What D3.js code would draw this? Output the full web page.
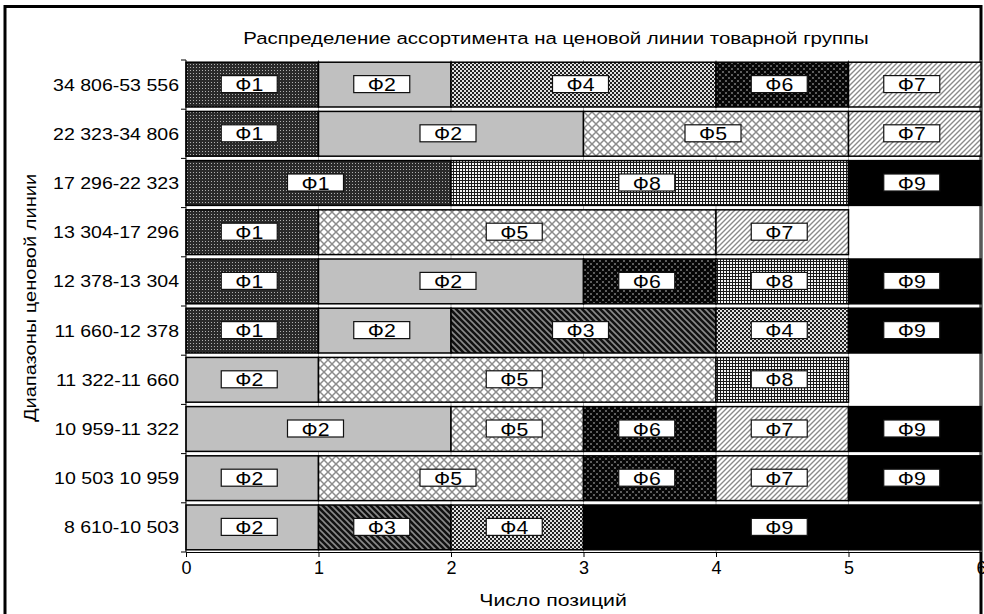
<!DOCTYPE html>
<html>
<head>
<meta charset="utf-8">
<script src="https://cdn.jsdelivr.net/npm/d3@7"></script>
<style>
  html, body { margin: 0; padding: 0; background: #fff; }
  svg { display: block; font-family: "Liberation Sans", Arial, sans-serif; }
</style>
</head>
<body>
<svg id="chart" width="984" height="614"></svg>
<script>
// Price-range bands, top to bottom
const categories = [
  "34 806-53 556", "22 323-34 806", "17 296-22 323", "13 304-17 296",
  "12 378-13 304", "11 660-12 378", "11 322-11 660", "10 959-11 322",
  "10 503 10 959", "8 610-10 503"
];

// Product families stacked along each band
const seriesKeys = ["Ф1", "Ф2", "Ф3", "Ф4", "Ф5", "Ф6", "Ф7", "Ф8", "Ф9"];

// Number of positions per family, one entry per band (same order as categories)
const F1 = [1, 1, 2, 1, 1, 1, 0, 0, 0, 0];
const F2 = [1, 2, 0, 0, 2, 1, 1, 2, 1, 1];
const F3 = [0, 0, 0, 0, 0, 2, 0, 0, 0, 1];
const F4 = [2, 0, 0, 0, 0, 1, 0, 0, 0, 1];
const F5 = [0, 2, 0, 3, 0, 0, 3, 1, 2, 0];
const F6 = [1, 0, 0, 0, 1, 0, 0, 1, 1, 0];
const F7 = [1, 1, 0, 1, 0, 0, 0, 1, 1, 0];
const F8 = [0, 0, 3, 0, 1, 0, 1, 0, 0, 0];
const F9 = [0, 0, 1, 0, 1, 1, 0, 1, 1, 3];

const xTicks = [0, 1, 2, 3, 4, 5, 6];

const chartTitle = "Распределение ассортимента на ценовой линии товарной группы";
const xTitle = "Число позиций";
const yTitle = "Диапазоны ценовой линии";

const seriesValues = [F1, F2, F3, F4, F5, F6, F7, F8, F9];
const rows = categories.map((c, i) => {
  const r = { category: c };
  seriesKeys.forEach((k, j) => { r[k] = seriesValues[j][i]; });
  return r;
});

const svg = d3.select("#chart");
const defs = svg.append("defs");

// text drawn with a slightly widened face
function wideText(parent, x, y, str, size, sx, anchor, rotate) {
  const rot = rotate ? ` rotate(${rotate})` : "";
  return parent.append("text")
    .attr("transform", `translate(${x},${y})${rot} scale(${sx},1)`)
    .attr("text-anchor", anchor || "middle")
    .attr("font-size", size)
    .text(str);
}

// ---- fill patterns ----
function pattern(id, w, h, draw) {
  const p = defs.append("pattern")
    .attr("id", id).attr("patternUnits", "userSpaceOnUse")
    .attr("width", w).attr("height", h);
  draw(p);
}
// Ф1: dark dotted
pattern("pF1", 3, 3, p => {
  p.append("rect").attr("width", 3).attr("height", 3).attr("fill", "#2a2a2a");
  p.append("rect").attr("x", 1).attr("y", 1).attr("width", 1).attr("height", 1).attr("fill", "#b0b0b0");
});
// Ф3: dark downward diagonal stripes
pattern("pF3", 6, 6, p => {
  p.append("rect").attr("width", 6).attr("height", 6).attr("fill", "#111");
  p.append("path").attr("d", "M0,0 L6,6 M-3,3 L3,9 M3,-3 L9,3")
    .attr("stroke", "#8a8a8a").attr("stroke-width", 1.6);
});
// Ф4: small checkerboard
pattern("pF4", 4, 4, p => {
  p.append("rect").attr("width", 4).attr("height", 4).attr("fill", "#e0e0e0");
  p.append("rect").attr("width", 2).attr("height", 2).attr("fill", "#222");
  p.append("rect").attr("x", 2).attr("y", 2).attr("width", 2).attr("height", 2).attr("fill", "#222");
});
// Ф5: light diagonal crosshatch
pattern("pF5", 8, 8, p => {
  p.append("rect").attr("width", 8).attr("height", 8).attr("fill", "#fff");
  p.append("path").attr("d", "M0,0 L8,8 M8,0 L0,8")
    .attr("stroke", "#8c8c8c").attr("stroke-width", 1.5);
});
// Ф6: black diamonds on grey lattice
pattern("pF6", 6, 6, p => {
  p.append("rect").attr("width", 6).attr("height", 6).attr("fill", "#7a7a7a");
  [[0, 0], [6, 0], [0, 6], [6, 6], [3, 3]].forEach(([cx, cy]) =>
    p.append("circle").attr("cx", cx).attr("cy", cy).attr("r", 2.3).attr("fill", "#050505"));
});
// Ф7: light upward diagonal stripes
pattern("pF7", 5, 5, p => {
  p.append("rect").attr("width", 5).attr("height", 5).attr("fill", "#fff");
  p.append("path").attr("d", "M0,5 L5,0 M-2.5,2.5 L2.5,-2.5 M2.5,7.5 L7.5,2.5")
    .attr("stroke", "#8a8a8a").attr("stroke-width", 1.4);
});
// Ф8: fine grid
pattern("pF8", 3, 3, p => {
  p.append("rect").attr("width", 3).attr("height", 3).attr("fill", "#f4f4f4");
  p.append("rect").attr("width", 3).attr("height", 1).attr("fill", "#1a1a1a");
  p.append("rect").attr("width", 1).attr("height", 3).attr("fill", "#1a1a1a");
});

const fills = {
  "Ф1": "url(#pF1)", "Ф2": "#c0c0c0", "Ф3": "url(#pF3)", "Ф4": "url(#pF4)",
  "Ф5": "url(#pF5)", "Ф6": "url(#pF6)", "Ф7": "url(#pF7)", "Ф8": "url(#pF8)",
  "Ф9": "#000"
};

// ---- layout ----
const plot = { left: 186, right: 981, top: 60, bottom: 552 };

const x = d3.scaleLinear().domain([0, 6]).range([plot.left, plot.right]);
const y = d3.scaleBand().domain(categories)
  .range([plot.top, plot.bottom]).paddingInner(0.09).paddingOuter(0.045);

// outer frame
svg.append("rect")
  .attr("x", 5).attr("y", 6.5).attr("width", 976).attr("height", 700)
  .attr("fill", "none").attr("stroke", "#000").attr("stroke-width", 3);

// title
wideText(svg, 556, 44, chartTitle, 17, 1.2);

// vertical gridlines (show between bars)
svg.append("g").selectAll("line").data(xTicks.slice(1)).join("line")
  .attr("x1", d => x(d)).attr("x2", d => x(d))
  .attr("y1", plot.top).attr("y2", plot.bottom)
  .attr("stroke", "#b0b0b0").attr("stroke-width", 1);

// stacked bars
const stacked = d3.stack().keys(seriesKeys)(rows);

const layers = svg.append("g").selectAll("g").data(stacked).join("g")
  .attr("fill", d => fills[d.key]);

layers.selectAll("rect")
  .data(d => d.filter(s => s[1] - s[0] > 0))
  .join("rect")
  .attr("x", s => x(s[0]))
  .attr("y", s => y(s.data.category))
  .attr("width", s => x(s[1]) - x(s[0]))
  .attr("height", y.bandwidth())
  .attr("stroke", "#000").attr("stroke-width", 1.5);

// segment labels
const labels = [];
stacked.forEach(layer => {
  layer.forEach(s => {
    if (s[1] - s[0] > 0) {
      labels.push({
        key: layer.key,
        cx: x((s[0] + s[1]) / 2),
        cy: y(s.data.category) + y.bandwidth() / 2
      });
    }
  });
});

const lg = svg.append("g").selectAll("g").data(labels).join("g")
  .attr("transform", d => `translate(${d.cx - 3},${d.cy})`);
lg.append("rect")
  .attr("x", -28).attr("y", -9).attr("width", 56).attr("height", 17)
  .attr("fill", "#fff").attr("stroke", "#111").attr("stroke-width", 1.2);
lg.each(function (d) { wideText(d3.select(this), 0, 6.5, d.key, 18.5, 1.15); });

// y axis: line, band-boundary ticks, category labels
const yAxis = svg.append("g");
yAxis.append("line")
  .attr("x1", plot.left).attr("x2", plot.left)
  .attr("y1", plot.top).attr("y2", plot.bottom)
  .attr("stroke", "#000").attr("stroke-width", 1);
const bounds = d3.range(categories.length + 1).map(i => plot.top + i * y.step());
yAxis.selectAll("line.tick").data(bounds).join("line").attr("class", "tick")
  .attr("x1", plot.left - 5).attr("x2", plot.left)
  .attr("y1", d => d).attr("y2", d => d)
  .attr("stroke", "#000");
categories.forEach(c => {
  wideText(yAxis, 179, y(c) + y.bandwidth() / 2 + 6, c, 17, 1.15, "end");
});

// x axis
const xAxis = svg.append("g")
  .attr("transform", `translate(0,${plot.bottom})`)
  .call(d3.axisBottom(x).tickValues(xTicks).tickFormat(d3.format("d"))
    .tickSize(5).tickPadding(4).tickSizeOuter(0));
xAxis.select(".domain").attr("stroke", "#000");
xAxis.selectAll("text").attr("font-size", 18)
  .attr("font-family", "'Liberation Sans', Arial, sans-serif").attr("fill", "#000");

// axis titles
wideText(svg, 553, 606, xTitle, 17, 1.25);
wideText(svg, 36, 298, yTitle, 17, 1.18, "middle", -90);
</script>
</body>
</html>
